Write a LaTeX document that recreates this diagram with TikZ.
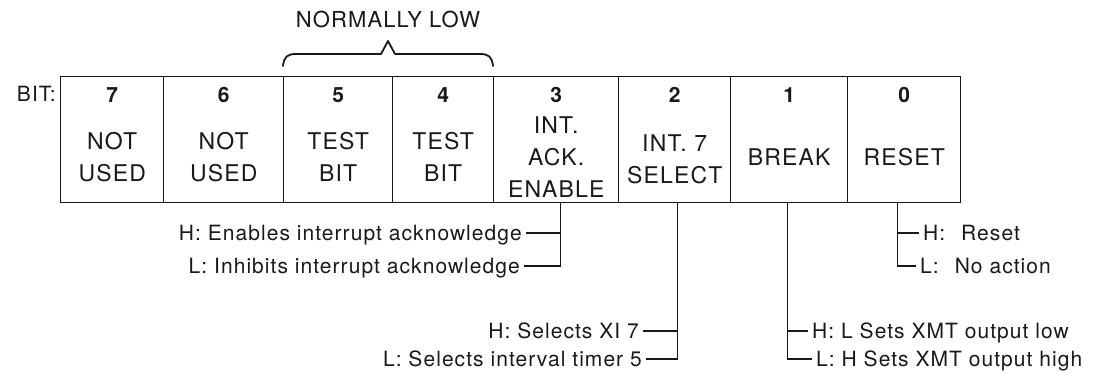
\documentclass[tikz,border=0pt]{standalone}
\usepackage{fontspec}
\setmainfont{TeX Gyre Heros}[LetterSpace=5]
\usetikzlibrary{calc,positioning}
\tikzset{
  cellbox/.style={draw=black!90, line width=1.4pt, anchor=north west,
    minimum height=126pt, inner sep=0pt},
  bitno/.style={font=\fontsize{21}{24}\selectfont\bfseries, inner sep=0pt},
  fieldtxt/.style={font=\fontsize{23}{32}\selectfont, align=center, inner sep=0pt},
  notetxt/.style={font=\fontsize{21}{24}\selectfont, inner xsep=4pt,
    inner ysep=0pt, text height=15pt, text depth=0pt},
  wireln/.style={line width=1.3pt, black!90},
  braceln/.style={line width=1.8pt, line cap=round, line join=round, black!90},
}

\begin{document}
\begin{tikzpicture}[x=1pt, y=-1pt, text=black!90]
    \useasboundingbox (0,0) rectangle (1103,374);
    % the eight cells of the register
    \foreach \n/\l/\r in {7/60/163, 6/163/283, 5/283/392, 4/392/493,
                          3/493/618, 2/618/730, 1/730/847, 0/847/960}
      \node[cellbox, minimum width={(\r-\l)*1pt}] (c\n) at (\l,76) {};
    \foreach \n in {7,6,...,0}
      \node[bitno] (n\n) at ($(c\n.north)+(0,19)$) {\n};
    \node[font=\fontsize{21}{24}\selectfont, inner sep=0pt, anchor=east]
      (bit) at ($(c7.north west)+(-4,18)$) {BIT:};

    \node[fieldtxt] (f7) at ($(c7.north)+(0,81)$) {NOT\\USED};
    \node[fieldtxt] (f6) at ($(c6.north)+(0,81)$) {NOT\\USED};
    \node[fieldtxt] (f5) at ($(c5.north)+(0,81)$) {TEST\\BIT};
    \node[fieldtxt] (f4) at ($(c4.north)+(0,81)$) {TEST\\BIT};
    \node[fieldtxt] (f3) at ($(c3.north)+(0,81)$) {INT.\\ACK.\\ENABLE};
    \node[fieldtxt] (f2) at ($(c2.north)+(0,83)$) {INT. 7\\SELECT};
    \node[fieldtxt] (f1) at ($(c1.north)+(0,81)$) {BREAK};
    \node[fieldtxt] (f0) at ($(c0.north)+(0,81)$) {RESET};

    % brace over bits 5 and 4
    \draw[braceln] (283,66) .. controls (284,57) and (287,54) .. (296,54)
      -- (381,54) -- (388,41) -- (395,54) -- (480,54)
      .. controls (489,54) and (492,57) .. (493,66);
    \node[font=\fontsize{22}{24}\selectfont, inner sep=0pt] (low) at (388,19)
      {NORMALLY LOW};

    % bit 3
    \coordinate (v3) at ($(c3.south)+(4,0)$);
    \node[notetxt, anchor=east] (h3) at (526,233) {H: Enables interrupt acknowledge};
    \node[notetxt, anchor=east] (l3) at (524,266) {L: Inhibits interrupt acknowledge};
    \draw[wireln] (v3) |- (l3.east);
    \draw[wireln] (h3.east) -- (h3.east -| v3);

    % bit 2
    \coordinate (v2) at ($(c2.south)+(3,0)$);
    \node[notetxt, anchor=east] (h2) at (643,331) {H: Selects XI 7};
    \node[notetxt, anchor=east] (l2) at (646,359) {L: Selects interval timer 5};
    \draw[wireln] (v2) |- (l2.east);
    \draw[wireln] (h2.east) -- (h2.east -| v2);

    % bit 1
    \coordinate (v1) at ($(c1.south)+(-1.5,0)$);
    \node[notetxt, anchor=west] (h1) at (808,331) {H: L Sets XMT output low};
    \node[notetxt, anchor=west] (l1) at (812,359) {L: H Sets XMT output high};
    \draw[wireln] (v1) |- (l1.west);
    \draw[wireln] (h1.west) -- (h1.west -| v1);

    % bit 0
    \coordinate (v0) at ($(c0.south)+(-6.5,0)$);
    \node[notetxt, anchor=west] (h0) at (919,233) {H:\hspace{16pt}Reset};
    \node[notetxt, anchor=west] (l0) at (916,266) {L:\hspace{16pt}No action};
    \draw[wireln] (v0) |- (l0.west);
    \draw[wireln] (h0.west) -- (h0.west -| v0);
\end{tikzpicture}
\end{document}
